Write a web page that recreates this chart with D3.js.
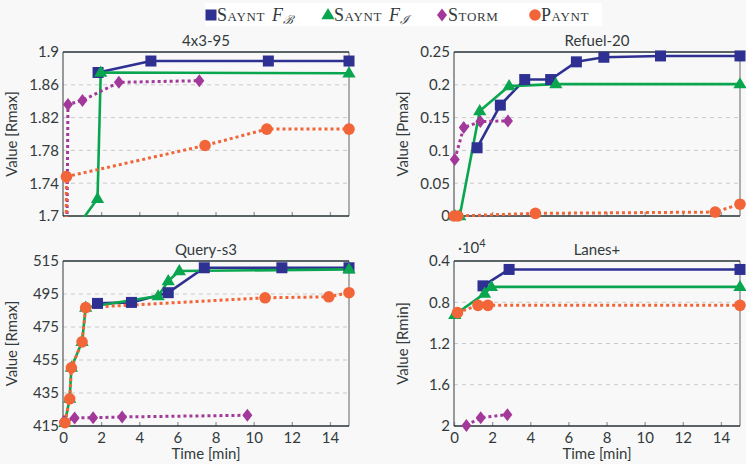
<!DOCTYPE html>
<html><head><meta charset="utf-8">
<script src="https://cdn.jsdelivr.net/npm/d3@7"></script>
<style>
html,body{margin:0;padding:0;background:#f8f8f8;}
svg{display:block;}
</style></head>
<body>
<svg id="chart" width="746" height="464"></svg>
<script>
// ---- Data ----
const seriesNames = ["SAYNT_FB", "SAYNT_FI", "STORM", "PAYNT"];
const xTicks = [0, 2, 4, 6, 8, 10, 12, 14];

// 4x3-95  [time (min), value]
const p1_fb    = [[1.84,1.875],[4.61,1.889],[10.77,1.889],[15,1.889]];
const p1_fi    = [[0.9,1.692],[1.81,1.721],[1.98,1.875],[15,1.874]];
const p1_storm = [[0.18,1.6],[0.26,1.836],[1.02,1.841],[2.93,1.863],[7.15,1.865]];
const p1_paynt = [[0.14,1.55],[0.18,1.748],[7.45,1.786],[10.69,1.806],[15,1.806]];
const p1_yTicks = [1.7, 1.74, 1.78, 1.82, 1.86, 1.9];

// Refuel-20
const p2_fb    = [[1.21,0.104],[2.43,0.169],[3.71,0.208],[5.07,0.208],[6.42,0.235],[7.86,0.242],[10.83,0.244],[15,0.244]];
const p2_fi    = [[0.05,0],[0.3,0],[1.35,0.16],[2.89,0.198],[5.34,0.201],[15,0.201]];
const p2_storm = [[0.04,0.086],[0.51,0.135],[1.38,0.144],[2.83,0.145]];
const p2_paynt = [[0,0],[0.2,0],[4.27,0.004],[13.7,0.006],[15,0.018]];
const p2_yTicks = [0, 0.05, 0.1, 0.15, 0.2, 0.25];

// Query-s3
const p3_fb    = [[1.81,489.3],[3.59,489.9],[5.52,495.8],[7.41,510.9],[11.48,510.9],[15,510.9]];
const p3_fi    = [[0.1,417],[0.35,431.6],[0.44,450.4],[1.0,466],[1.19,486.8],[4.99,493.7],[5.52,502.9],[6.1,508.9],[15,509.9]];
const p3_storm = [[0.05,417.9],[0.61,419.9],[1.58,420],[3.1,420.5],[9.67,421.5]];
const p3_paynt = [[0.1,417],[0.35,431.5],[0.44,450.3],[1.0,466],[1.19,486.8],[10.6,492.7],[13.94,493.3],[15,495.8]];
const p3_yTicks = [415, 435, 455, 475, 495, 515];

// Lanes+ (values in units of 10^4, axis reversed)
const p4_fb    = [[1.52,0.641],[2.89,0.482],[15,0.482]];
const p4_fi    = [[0.04,0.921],[1.6,0.716],[1.96,0.651],[15,0.651]];
const p4_storm = [[0.65,1.994],[1.4,1.919],[2.8,1.89]];
const p4_paynt = [[0.18,0.901],[1.26,0.83],[1.78,0.83],[15,0.83]];
const p4_yTicks = [0.4, 0.8, 1.2, 1.6, 2];

// ---- Layout / style ----
const colors = {SAYNT_FB:"#2e3192", SAYNT_FI:"#0aa64f", STORM:"#a2399a", PAYNT:"#f26538"};
const textColor = "#333a3c";
const axisFont = "Lato, 'Open Sans', sans-serif";
const serifFont = "'Liberation Serif', 'DejaVu Serif', serif";

const panels = [
  {title:"4x3-95", ylabel:"Value [Rmax]", data:[p1_fb,p1_fi,p1_storm,p1_paynt], yTicks:p1_yTicks, ydom:[1.7,1.9], reversed:false,
   x0:63, x1:349, y0:52, y1:216, xLabels:false, fmt:d=>String(d)},
  {title:"Refuel-20", ylabel:"Value [Pmax]", data:[p2_fb,p2_fi,p2_storm,p2_paynt], yTicks:p2_yTicks, ydom:[0,0.25], reversed:false,
   x0:454, x1:740, y0:52, y1:216, xLabels:false, fmt:d=>String(d)},
  {title:"Query-s3", ylabel:"Value [Rmax]", data:[p3_fb,p3_fi,p3_storm,p3_paynt], yTicks:p3_yTicks, ydom:[415,515], reversed:false,
   x0:63, x1:349, y0:261, y1:426, xLabels:true, fmt:d=>String(d)},
  {title:"Lanes+", ylabel:"Value [Rmin]", data:[p4_fb,p4_fi,p4_storm,p4_paynt], yTicks:p4_yTicks, ydom:[0.4,2], reversed:true,
   x0:454, x1:740, y0:261, y1:426, xLabels:true, fmt:d=>String(d), exp:true}
];

const svg = d3.select("#chart");
svg.append("rect").attr("width",746).attr("height",464).attr("fill","#f8f8f8");
const defs = svg.append("defs");

function marker(g, name, x, y) {
  const c = colors[name];
  if (name === "SAYNT_FB") {
    g.append("rect").attr("x",x-5.5).attr("y",y-5.5).attr("width",11).attr("height",11).attr("fill",c);
  } else if (name === "SAYNT_FI") {
    const s = 7;
    g.append("path").attr("d",`M${x},${y-s}L${x+s*0.95},${y+s*0.6}L${x-s*0.95},${y+s*0.6}Z`).attr("fill",c);
  } else if (name === "STORM") {
    g.append("path").attr("d",`M${x},${y-6.5}L${x+5},${y}L${x},${y+6.5}L${x-5},${y}Z`).attr("fill",c);
  } else {
    g.append("circle").attr("cx",x).attr("cy",y).attr("r",5.8).attr("fill",c);
  }
}

panels.forEach((p, i) => {
  const x = d3.scaleLinear().domain([0,15]).range([p.x0, p.x1]);
  const y = d3.scaleLinear().domain(p.ydom).range(p.reversed ? [p.y0, p.y1] : [p.y1, p.y0]);
  const g = svg.append("g");

  // grid
  p.yTicks.forEach(t => {
    const yy = y(t);
    if (Math.abs(yy - p.y0) < 1 || Math.abs(yy - p.y1) < 1) return;
    g.append("line").attr("x1",p.x0).attr("x2",p.x1).attr("y1",yy).attr("y2",yy)
      .attr("stroke","#c9c9c9").attr("stroke-width",1).attr("stroke-dasharray","4,4");
  });

  // x ticks (inside)
  const xAxis = d3.axisBottom(x).tickValues(xTicks).tickSize(-4).tickPadding(6)
    .tickFormat(p.xLabels ? d3.format("d") : "");
  const ax = g.append("g").attr("transform",`translate(0,${p.y1})`).call(xAxis);
  ax.select(".domain").remove();
  ax.selectAll(".tick line").attr("stroke","#9a9a9a").attr("stroke-width",1.3);
  ax.selectAll(".tick text").attr("fill",textColor).attr("font-family",axisFont).attr("font-size",15);

  // y axis labels
  const yAxis = d3.axisLeft(y).tickValues(p.yTicks).tickSize(0).tickPadding(4).tickFormat(p.fmt);
  const ay = g.append("g").attr("transform",`translate(${p.x0},0)`).call(yAxis);
  ay.select(".domain").remove();
  ay.selectAll(".tick text").attr("fill",textColor).attr("font-family",axisFont).attr("font-size",15);

  // frame
  g.append("line").attr("x1",p.x1).attr("x2",p.x1).attr("y1",p.y0).attr("y2",p.y1).attr("stroke","#7d7d7d").attr("stroke-width",1.2);
  g.append("line").attr("x1",p.x0).attr("x2",p.x0).attr("y1",p.y0).attr("y2",p.y1).attr("stroke","#555b5d").attr("stroke-width",1.2);
  g.append("line").attr("x1",p.x0).attr("x2",p.x1).attr("y1",p.y0).attr("y2",p.y0).attr("stroke","#263336").attr("stroke-width",1.3);
  g.append("line").attr("x1",p.x0).attr("x2",p.x1).attr("y1",p.y1).attr("y2",p.y1).attr("stroke","#263336").attr("stroke-width",1.5);

  // clip
  const cid = "clip"+i;
  defs.append("clipPath").attr("id",cid).append("rect")
    .attr("x",p.x0-8).attr("y",p.y0-1).attr("width",p.x1-p.x0+16).attr("height",p.y1-p.y0+2);

  const line = d3.line().x(d=>x(d[0])).y(d=>y(d[1]));
  const plot = g.append("g").attr("clip-path",`url(#${cid})`);
  const lo = Math.min(...p.ydom), hi = Math.max(...p.ydom);
  seriesNames.forEach((name, si) => {
    const data = p.data[si];
    const dotted = (name === "STORM" || name === "PAYNT");
    plot.append("path").datum(data).attr("d",line).attr("fill","none")
      .attr("stroke",colors[name]).attr("stroke-width",dotted?3:2.6)
      .attr("stroke-dasharray",dotted?"3,3":null).attr("stroke-linejoin","round");
  });
  const mk = g.append("g");
  seriesNames.forEach((name, si) => {
    p.data[si].forEach(d => {
      if (d[1] < lo - 1e-9 || d[1] > hi + 1e-9) return;
      marker(mk, name, x(d[0]), y(d[1]));
    });
  });

  // title
  g.append("text").attr("x",(p.x0+p.x1)/2).attr("y",p.y0-6).attr("text-anchor","middle")
    .attr("fill",textColor).attr("font-family",axisFont).attr("font-size",15).text(p.title);
  // y label
  const lx = p.x0 - 46, ly = (p.y0+p.y1)/2;
  g.append("text").attr("transform",`translate(${lx},${ly}) rotate(-90)`).attr("text-anchor","middle")
    .attr("fill",textColor).attr("font-family",axisFont).attr("font-size",15).text(p.ylabel);
  if (p.xLabels) {
    g.append("text").attr("x",(p.x0+p.x1)/2).attr("y",459).attr("text-anchor","middle")
      .attr("fill",textColor).attr("font-family",axisFont).attr("font-size",15).text("Time [min]");
  }
  if (p.exp) {
    const t = g.append("text").attr("x",p.x0+4).attr("y",p.y0-8).attr("fill",textColor)
      .attr("font-family",axisFont).attr("font-size",15);
    t.append("tspan").text("·10");
    t.append("tspan").attr("dy",-6).attr("font-size",11).text("4");
  }
});

// ---- Legend ----
const lg = svg.append("g");
lg.append("rect").attr("x",205).attr("y",3).attr("width",397).attr("height",23).attr("fill","#ffffff");
const legendItems = [
  {name:"SAYNT_FB", mx:211, tx:217, label:"Saynt", sub:"\u212C"},
  {name:"SAYNT_FI", mx:328, tx:334, label:"Saynt", sub:"\u2110"},
  {name:"STORM", mx:442, tx:448, label:"Storm"},
  {name:"PAYNT", mx:535, tx:541, label:"Paynt"}
];
legendItems.forEach(it => {
  marker(lg, it.name, it.mx, 15);
  const t = lg.append("text").attr("x",it.tx).attr("y",21).attr("fill",textColor)
    .attr("font-family",serifFont).attr("font-size",18).attr("letter-spacing",0.6);
  t.append("tspan").attr("font-variant","small-caps").text(it.label);
  if (it.sub) {
    t.append("tspan").attr("dx",7).attr("font-style","italic").attr("letter-spacing",0).text("F");
    t.append("tspan").attr("dy",3).attr("font-size",12).attr("font-style","italic").attr("letter-spacing",0).text(it.sub);
  }
});
</script>
</body></html>
